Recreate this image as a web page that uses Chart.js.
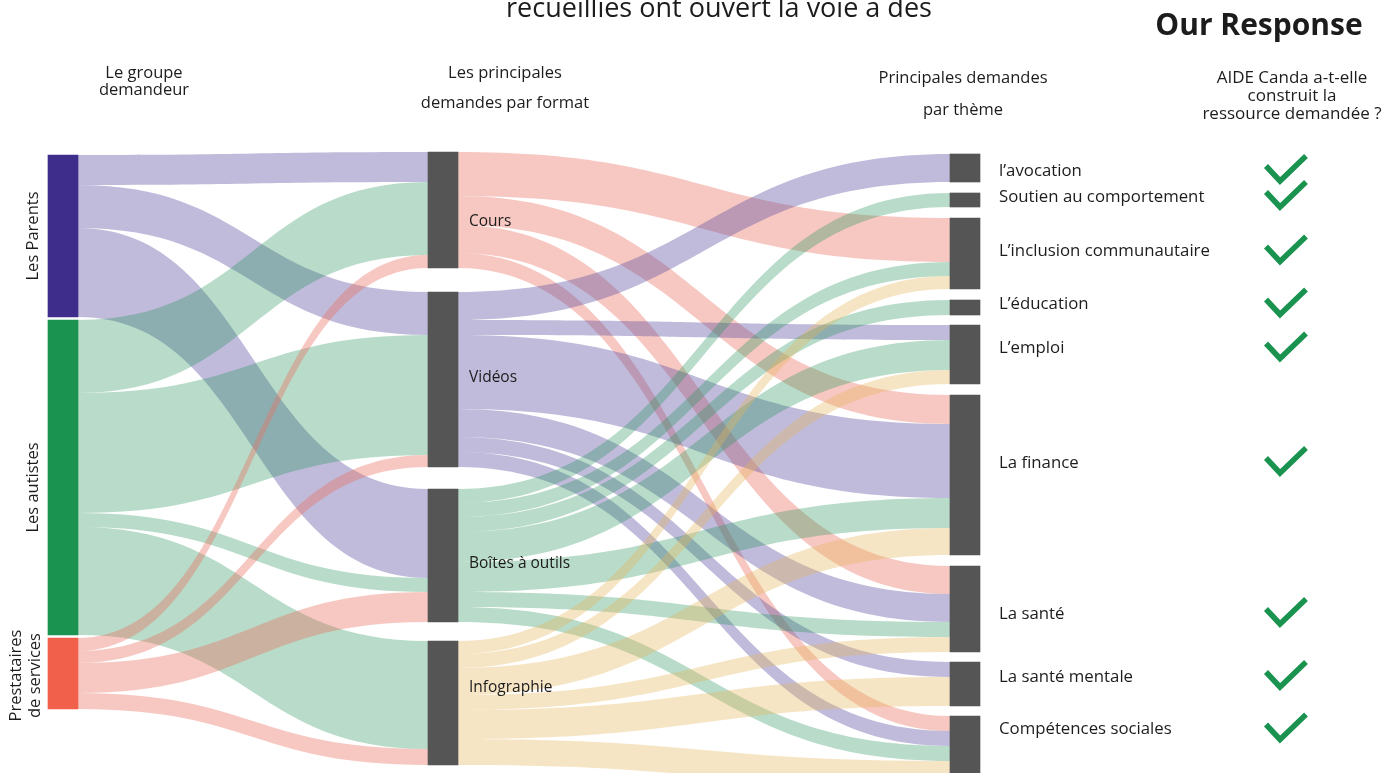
<!DOCTYPE html>
<html lang="fr">
<head>
<meta charset="utf-8">
<title>Demandes recueillies</title>
<script src="https://cdn.jsdelivr.net/npm/chart.js@4.4.1/dist/chart.umd.min.js"></script>
<style>
  html, body { margin: 0; padding: 0; background: #fff; }
  #wrap { width: 1384px; height: 773px; overflow: hidden; }
</style>
</head>
<body>
<div id="wrap"><canvas id="sankey" width="1384" height="773"></canvas></div>
<script>
// groupes demandeurs (colonne de gauche)
const groups = ['Les Parents', 'Les autistes', 'Prestataires\nde services'];
// formats (colonne du milieu)
const formats = ['Cours', 'Vidéos', 'Boîtes à outils', 'Infographie'];
// thèmes (colonne de droite)
const themes = ['l’avocation', 'Soutien au comportement', 'L’inclusion communautaire', 'L’éducation',
  'L’emploi', 'La finance', 'La santé', 'La santé mentale', 'Compétences sociales'];
// AIDE Canada a-t-elle construit la ressource ?
const built = [true, true, true, true, true, true, true, true, true];

// demandes groupe -> format (Cours, Vidéos, Boîtes à outils, Infographie)
const parentsByFormat = [30, 43, 89, 0];
const autistesByFormat = [73, 120, 14, 108];
const prestatairesByFormat = [13, 12, 30, 16];

// demandes format -> thème (même ordre que themes)
const coursByTheme = [0, 0, 44, 0, 0, 29, 28, 0, 15];
const videosByTheme = [28, 0, 0, 0, 15, 74, 28, 15, 15];
const boitesByTheme = [0, 14, 14, 15, 30, 30, 15, 0, 15];
const infographieByTheme = [0, 0, 13, 0, 14, 27, 15, 29, 26];

// ---- mise en page ----
const FONT = "'Open Sans', sans-serif";
const colLeft = [48, 428, 950];
const nodeWidth = 30;
const colTop = [155, 152, 154];
const colGaps = [[3, 3], [24, 22, 19], [11, 11, 11, 10, 11, 11, 10, 10]];
const groupColors = ['#3e2d8a', '#1b9350', '#f0604b'];
const nodeGrey = '#555555';
const groupFlow = ['rgba(90,75,160,0.38)', 'rgba(40,150,90,0.33)', 'rgba(235,110,95,0.38)'];
const formatFlow = ['rgba(235,110,95,0.38)', 'rgba(90,75,160,0.38)', 'rgba(40,150,90,0.33)', 'rgba(230,180,90,0.35)'];
const groupLabelNudge = [0, 10, 2];
const formatLabelNudge = [12, -2, 8, -15];
const themeLabelNudge = [3, -3, -2, -3, -6, -12, 5, -7, -22];
const checkX = 1286;

const sum = a => a.reduce((s, v) => s + v, 0);
const groupRows = [parentsByFormat, autistesByFormat, prestatairesByFormat];
const formatRows = [coursByTheme, videosByTheme, boitesByTheme, infographieByTheme];
const groupTotals = groupRows.map(sum);
const formatTotals = formatRows.map(sum);
const themeTotals = themes.map((_, j) => sum(formatRows.map(r => r[j])));

function stackColumn(values, top, gaps) {
  const out = [];
  let y = top;
  values.forEach((v, i) => {
    out.push([y, y + v]);
    y += v + (gaps[i] || 0);
  });
  return out;
}

const groupNodes = stackColumn(groupTotals, colTop[0], colGaps[0]);
const formatNodes = stackColumn(formatTotals, colTop[1], colGaps[1]);
const themeNodes = stackColumn(themeTotals, colTop[2], colGaps[2]);

function makeLinks(matrix, src, tgt, colors) {
  const tgtOffset = tgt.map(n => n[0]);
  const links = [];
  matrix.forEach((row, i) => {
    let s = src[i][0];
    row.forEach((v, j) => {
      if (!v) return;
      links.push({ s0: s, s1: s + v, t0: tgtOffset[j], t1: tgtOffset[j] + v, color: colors[i] });
      s += v;
      tgtOffset[j] += v;
    });
  });
  return links;
}

const leftLinks = makeLinks(groupRows, groupNodes, formatNodes, groupFlow);
const rightLinks = makeLinks(formatRows, formatNodes, themeNodes, formatFlow);

const mid = c => colLeft[c] + nodeWidth / 2;
const nodeData = [
  ...groupNodes.map(n => ({ x: mid(0), y: n })),
  ...formatNodes.map(n => ({ x: mid(1), y: n })),
  ...themeNodes.map(n => ({ x: mid(2), y: n }))
];
const nodeColors = [...groupColors, ...formats.map(() => nodeGrey), ...themes.map(() => nodeGrey)];

function drawLinks(ctx, xs, ys, links, fromX, toX) {
  const a = xs.getPixelForValue(fromX), b = xs.getPixelForValue(toX), m = (a + b) / 2;
  links.forEach(l => {
    const s0 = ys.getPixelForValue(l.s0), s1 = ys.getPixelForValue(l.s1);
    const t0 = ys.getPixelForValue(l.t0), t1 = ys.getPixelForValue(l.t1);
    ctx.beginPath();
    ctx.moveTo(a, s0);
    ctx.bezierCurveTo(m, s0, m, t0, b, t0);
    ctx.lineTo(b, t1);
    ctx.bezierCurveTo(m, t1, m, s1, a, s1);
    ctx.closePath();
    ctx.fillStyle = l.color;
    ctx.fill();
  });
}

const flowPlugin = {
  id: 'flows',
  beforeDatasetsDraw(chart) {
    const { ctx, scales: { x, y } } = chart;
    ctx.save();
    drawLinks(ctx, x, y, leftLinks, colLeft[0] + nodeWidth, colLeft[1]);
    drawLinks(ctx, x, y, rightLinks, colLeft[1] + nodeWidth, colLeft[2]);
    ctx.restore();
  }
};

function text(ctx, str, px, py, size, align, weight) {
  ctx.font = (weight || '400') + ' ' + size + 'px ' + FONT;
  ctx.textAlign = align || 'center';
  ctx.fillText(str, px, py);
}

function check(ctx, cx, cy) {
  ctx.beginPath();
  ctx.moveTo(cx - 20, cy - 3);
  ctx.lineTo(cx - 6, cy + 12);
  ctx.lineTo(cx + 20, cy - 13);
  ctx.lineWidth = 5.5;
  ctx.strokeStyle = '#1b9350';
  ctx.lineJoin = 'miter';
  ctx.stroke();
}

const labelPlugin = {
  id: 'labels',
  afterDatasetsDraw(chart) {
    const { ctx, scales: { x, y } } = chart;
    ctx.save();
    ctx.fillStyle = '#1c1c1c';
    ctx.textBaseline = 'middle';

    // groupes, texte vertical
    groups.forEach((g, i) => {
      const cy = y.getPixelForValue((groupNodes[i][0] + groupNodes[i][1]) / 2) + groupLabelNudge[i];
      const lines = g.split('\n');
      ctx.save();
      ctx.translate(x.getPixelForValue(colLeft[0]) - 15 - (lines.length - 1) * 17, cy);
      ctx.rotate(-Math.PI / 2);
      lines.forEach((ln, k) => text(ctx, ln, 0, k * 19, 16.5));
      ctx.restore();
    });

    // formats
    formats.forEach((f, i) => {
      const cy = y.getPixelForValue((formatNodes[i][0] + formatNodes[i][1]) / 2) + formatLabelNudge[i];
      text(ctx, f, x.getPixelForValue(colLeft[1] + nodeWidth) + 11, cy, 15.5, 'left');
    });

    // thèmes + réponse
    themes.forEach((t, i) => {
      const cy = y.getPixelForValue((themeNodes[i][0] + themeNodes[i][1]) / 2) + themeLabelNudge[i];
      text(ctx, t, x.getPixelForValue(colLeft[2] + nodeWidth) + 19, cy, 16.8, 'left');
      if (built[i]) check(ctx, x.getPixelForValue(checkX), cy - 2);
    });

    // en-têtes
    ctx.textBaseline = 'alphabetic';
    text(ctx, 'recueillies ont ouvert la voie à des', 719, 17, 27);
    text(ctx, 'Our Response', 1259, 35, 30, 'center', '700');
    text(ctx, 'Le groupe', 144, 78, 16.5);
    text(ctx, 'demandeur', 144, 95, 16.5);
    text(ctx, 'Les principales', 505, 78, 16.5);
    text(ctx, 'demandes par format', 505, 108, 16.5);
    text(ctx, 'Principales demandes', 963, 83, 16.5);
    text(ctx, 'par thème', 963, 115, 16.5);
    text(ctx, 'AIDE Canda a-t-elle', 1292, 83, 17);
    text(ctx, 'construit la', 1292, 101, 17);
    text(ctx, 'ressource demandée ?', 1292, 119, 17);
    ctx.restore();
  }
};

new Chart(document.getElementById('sankey'), {
  type: 'bar',
  data: {
    datasets: [{
      data: nodeData,
      backgroundColor: nodeColors,
      barThickness: nodeWidth,
      borderWidth: 0
    }]
  },
  options: {
    responsive: false,
    animation: false,
    devicePixelRatio: 1,
    layout: { padding: 0 },
    plugins: { legend: { display: false }, tooltip: { enabled: false } },
    scales: {
      x: { type: 'linear', min: 0, max: 1384, offset: false, display: false },
      y: { min: 0, max: 773, reverse: true, offset: false, display: false }
    }
  },
  plugins: [flowPlugin, labelPlugin]
});
</script>
</body>
</html>
